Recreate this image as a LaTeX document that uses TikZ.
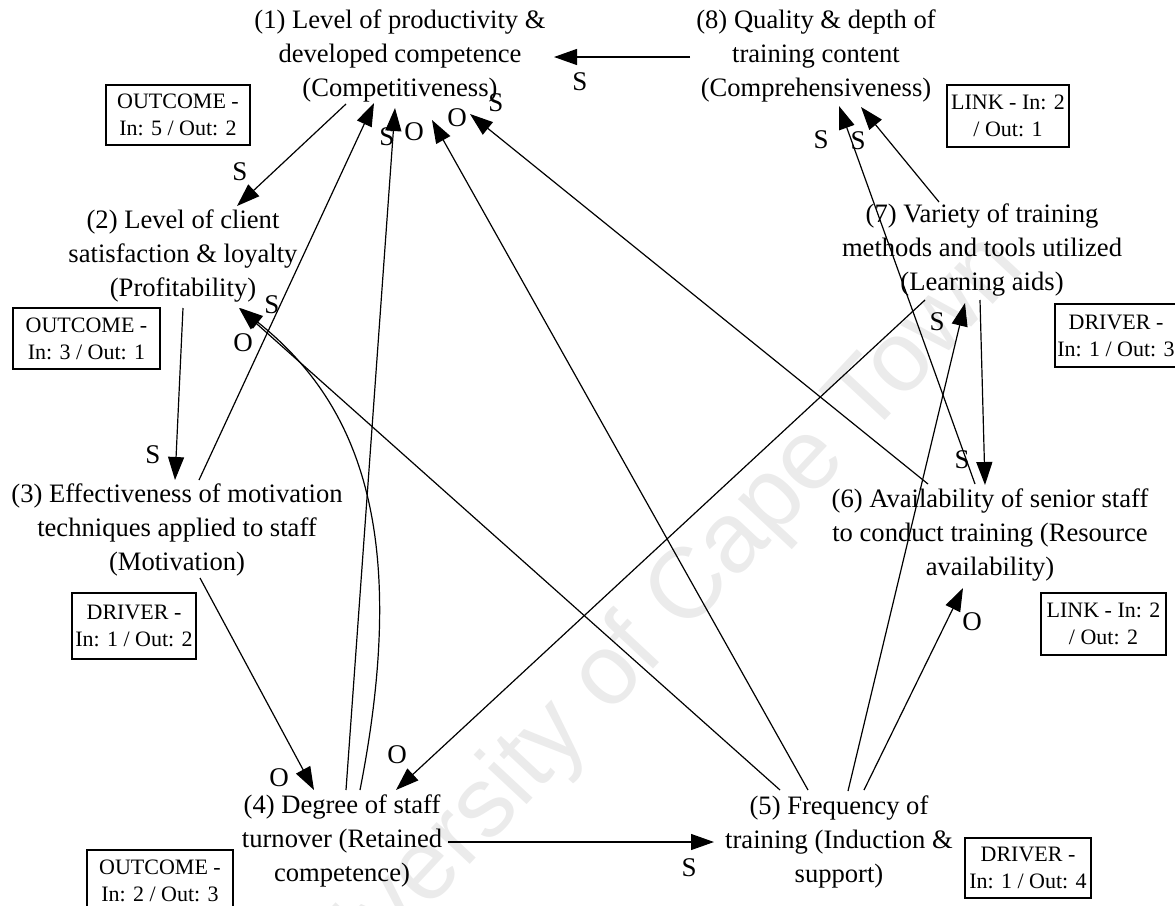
\documentclass[tikz,border=0pt]{standalone}
\usepackage{fontspec}
\setmainfont{Liberation Serif}
\newfontfamily\wmfont{Liberation Sans}
\usetikzlibrary{arrows.meta}
\begin{document}
\begin{tikzpicture}[x=1pt,y=-1pt,
  nd/.style={align=center,inner sep=0pt,font=\fontsize{26.6}{34}\selectfont},
  tally/.style={draw,line width=1.5pt,align=center,inner sep=0pt,font=\fontsize{22}{27}\selectfont},
  lbl/.style={inner sep=0pt,font=\fontsize{27}{27}\selectfont},
  arr/.style={line width=1.2pt,-{Triangle[length=23pt,width=16pt]}}]
\useasboundingbox (0,0) rectangle (1175,905);

% faint repository watermark
\node[rotate=47,text=black!8,inner sep=0pt,font=\wmfont\fontsize{100}{100}\selectfont] (wm) at (640,645) {University of Cape Town};

% variables
\node[nd] (n1) at (400,56) {(1) Level of productivity \&\\developed competence\\(Competitiveness)};
\node[nd] (n2) at (183,256) {(2) Level of client\\satisfaction \& loyalty\\(Profitability)};
\node[nd] (n3) at (177,530) {(3) Effectiveness of motivation\\techniques applied to staff\\(Motivation)};
\node[nd] (n4) at (342,841) {(4) Degree of staff\\turnover (Retained\\competence)};
\node[nd] (n5) at (839,842) {(5) Frequency of\\training (Induction \&\\support)};
\node[nd] (n6) at (990,535) {(6) Availability of senior staff\\to conduct training (Resource\\availability)};
\node[nd] (n7) at (982,250) {(7) Variety of training\\methods and tools utilized\\(Learning aids)};
\node[nd] (n8) at (816,56) {(8) Quality \& depth of\\training content\\(Comprehensiveness)};

% role and in/out counts
\node[tally,minimum width=144pt,minimum height=60pt] (b1) at (178,115) {OUTCOME -\\In: 5 / Out: 2};
\node[tally,minimum width=147pt,minimum height=61pt] (b2) at (86.5,338.5) {OUTCOME -\\In: 3 / Out: 1};
\node[tally,minimum width=124pt,minimum height=66pt] (b3) at (134,626) {DRIVER -\\In: 1 / Out: 2};
\node[tally,minimum width=146pt,minimum height=62pt] (b4) at (160,881) {OUTCOME -\\In: 2 / Out: 3};
\node[tally,minimum width=126pt,minimum height=60pt] (b5) at (1028,868) {DRIVER -\\In: 1 / Out: 4};
\node[tally,minimum width=125pt,minimum height=62pt] (b6) at (1103.5,624) {LINK - In: 2\\/ Out: 2};
\node[tally,minimum width=122pt,minimum height=63pt] (b7) at (1116,335.5) {DRIVER -\\In: 1 / Out: 3};
\node[tally,minimum width=122pt,minimum height=62pt] (b8) at (1008,116) {LINK - In: 2\\/ Out: 1};

% causal links
\draw[arr] ([shift={(-126,1)}]n8.center) -- ([shift={(154,1)}]n1.center);
\draw[arr] ([shift={(-54,48)}]n1.center) -- ([shift={(54,-50)}]n2.center);
\draw[arr] ([shift={(22,-50)}]n3.center) -- ([shift={(-26,47)}]n1.center);
\draw[arr] ([shift={(4,-51)}]n4.center) -- ([shift={(-5,52)}]n1.center);
\draw[arr] ([shift={(-31,-52)}]n5.center) -- ([shift={(32,64)}]n1.center);
\draw[arr] ([shift={(-62,-51)}]n6.center) -- ([shift={(70,58)}]n1.center);
\draw[arr] ([shift={(-15,-51)}]n6.center) -- ([shift={(23,50)}]n8.center);
\draw[arr] ([shift={(-43,-48)}]n7.center) -- ([shift={(45,51)}]n8.center);
\draw[arr] ([shift={(-2,50)}]n7.center) -- ([shift={(-5,-50)}]n6.center);
\draw[arr] ([shift={(-57,50)}]n7.center) -- ([shift={(54,-51)}]n4.center);
\draw[arr] ([shift={(9,-51)}]n5.center) -- ([shift={(-17,53)}]n7.center);
\draw[arr] ([shift={(25,-52)}]n5.center) -- ([shift={(-27,53)}]n6.center);
\draw[arr] ([shift={(-59,-52)}]n5.center) -- ([shift={(56,52)}]n2.center);
\draw[arr] ([shift={(18,-51)}]n4.center) .. controls (412,525) and (355,400) .. ([shift={(57,52)}]n2.center);
\draw[arr] ([shift={(0,52)}]n2.center) -- ([shift={(-2,-50)}]n3.center);
\draw[arr] ([shift={(23,48)}]n3.center) -- ([shift={(-28,-51)}]n4.center);
\draw[arr] ([shift={(106,1)}]n4.center) -- ([shift={(-125,0)}]n5.center);

% link polarities
\node[lbl] (l1) at (580,82) {S};
\node[lbl] (l2) at (240,172) {S};
\node[lbl] (l3) at (387,137) {S};
\node[lbl] (l4) at (414,132) {O};
\node[lbl] (l5) at (457,118) {O};
\node[lbl] (l6) at (496,103) {S};
\node[lbl] (l7) at (821,140) {S};
\node[lbl] (l8) at (858,141) {S};
\node[lbl] (l9) at (937,322) {S};
\node[lbl] (l10) at (962,460) {S};
\node[lbl] (l11) at (972,622) {O};
\node[lbl] (l12) at (272,305) {S};
\node[lbl] (l13) at (243,343) {O};
\node[lbl] (l14) at (153,455) {S};
\node[lbl] (l15) at (279,778) {O};
\node[lbl] (l16) at (397,755) {O};
\node[lbl] (l17) at (689,868) {S};
\end{tikzpicture}
\end{document}
